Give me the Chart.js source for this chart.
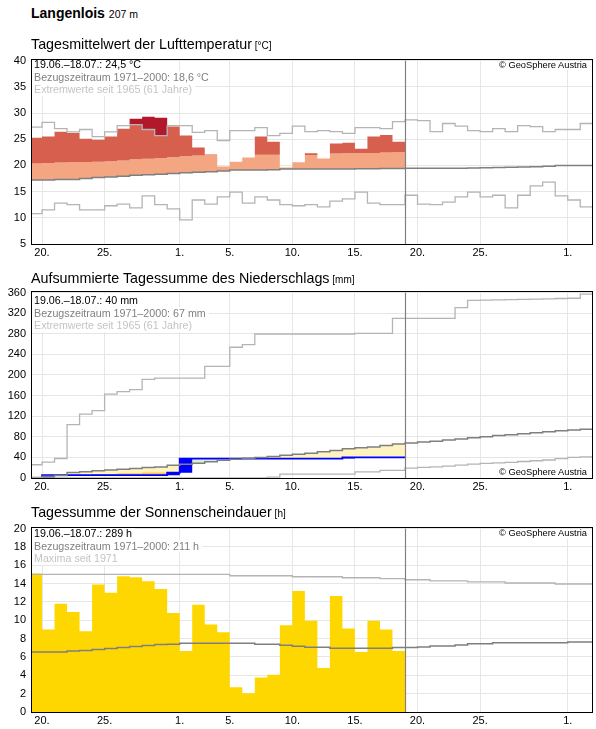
<!DOCTYPE html>
<html><head><meta charset="utf-8">
<script src="https://cdn.jsdelivr.net/npm/chart.js@4/dist/chart.umd.min.js"></script>
<style>
html,body{margin:0;padding:0;background:#fff;width:596px;height:729px;overflow:hidden;font-family:'Liberation Sans',Arial,sans-serif;}
canvas{position:absolute;left:0;z-index:1}
.t{position:absolute;white-space:nowrap;z-index:2}
.frame{position:absolute;border:1px solid #000;box-sizing:border-box;z-index:3;pointer-events:none}
</style></head><body>
<script>
// ---------- categories / ticks ----------
const dates = ['19.06.','20.06.','21.06.','22.06.','23.06.','24.06.','25.06.','26.06.','27.06.','28.06.','29.06.','30.06.',
 '01.07.','02.07.','03.07.','04.07.','05.07.','06.07.','07.07.','08.07.','09.07.','10.07.','11.07.','12.07.','13.07.','14.07.','15.07.',
 '16.07.','17.07.','18.07.','19.07.','20.07.','21.07.','22.07.','23.07.','24.07.','25.07.','26.07.','27.07.','28.07.','29.07.','30.07.','31.07.',
 '01.08.','02.08.'];
const tickDays = [1, 6, 12, 16, 21, 26, 31, 36, 43];
const tickLabels = ['20.', '25.', '1.', '5.', '10.', '15.', '20.', '25.', '1.'];
const todayIndex = 30;

// ---------- temperature (°C) ----------
const tempObs = [25.3,25.5,26.4,26.2,25.1,24.9,25.5,27.0,28.9,29.3,29.1,27.4,25.7,23.4,22.1,19.8,20.7,21.5,25.5,24.5,19.6,20.6,22.3,21.3,24.2,24.3,23.2,25.5,25.8,24.5];
const tempUpper = [20.35,20.45,20.55,20.6,20.65,20.7,20.8,20.95,21.15,21.25,21.4,21.6,21.75,21.9,22.0,22.1,22.2,22.2,22.05,22.05,22.2,22.2,22.0,22.2,22.25,22.3,22.3,22.35,22.45,22.5];
const tempNorm = [17.2,17.2,17.3,17.3,17.5,17.7,17.8,17.95,18.1,18.2,18.3,18.45,18.6,18.7,18.8,18.95,19.1,19.1,19.1,19.15,19.3,19.3,19.3,19.3,19.3,19.3,19.35,19.35,19.4,19.4,19.45,19.45,19.45,19.45,19.45,19.5,19.55,19.6,19.65,19.7,19.75,19.85,20.0,20.0,20.0];
const tempMax = [27.3,28.2,27.0,26.4,26.85,25.5,26.4,27.6,27.8,26.85,25.7,27.6,27.6,26.3,26.65,24.75,26.65,26.65,27.2,25.7,26.1,27.5,26.45,26.65,26.45,26.1,27.2,27.2,27.0,28.35,28.7,28.55,26.45,28.0,27.5,26.65,26.45,27.0,26.45,27.6,27.4,26.45,26.85,26.85,28.0];
const tempMin = [10.8,11.5,12.8,12.5,11.5,11.5,12.3,12.6,11.9,14.2,12.5,11.7,9.6,13.4,12.6,14.0,14.9,12.8,14.0,13.4,12.5,12.3,12.5,12.1,13.2,13.6,14.9,12.8,12.5,12.5,14.3,12.6,12.5,13.0,14.0,14.9,14.0,14.3,11.9,14.3,16.1,16.8,14.2,13.4,12.1];

// ---------- precipitation (mm, cumulative) ----------
const precipObs = [0,5.5,5.5,5.5,5.5,5.5,5.5,5.5,5.5,5.5,5.5,10.2,37.8,37.8,37.8,37.8,37.8,37.8,37.8,37.8,37.8,37.8,37.8,37.8,37.8,40.0,40.0,40.0,40.0,40.0];
const precipLow = [0.5,1.5,2.2,4.8,5.3,7.7,7.7,9.0,9.0,10.9,10.9,10.0,12.5,13.5,14.5,16.0,17.0,18.0,19.0,20.0,21.0,22.0,23.0,24.0,25.5,27.0,28.0,29.0,30.0,31.5];
const precipNorm = [1.0,3.5,4.8,10.5,12.0,14.0,15.5,17.0,18.3,20.2,21.5,24.7,26.7,28.8,31.5,34.5,36.5,38.3,39.8,41.8,44.3,46.3,48.2,50.8,53.3,56.6,58.5,60.4,63.0,66.2,68.1,70.0,71.5,73.9,75.8,78.0,80.3,82.3,84.2,86.1,88.0,90.0,91.9,93.2,94.5];
const precipMax = [25.7,30.8,37.9,103.5,124,131,163,167.7,171.6,191.5,194,194,194,194,216.6,216.6,253.9,259,279.6,279.6,279.6,279.6,279.6,279.6,279.6,279.6,280.8,280.8,280.8,309.8,309.8,309.8,309.8,309.8,331,345,345.5,346,346.5,347,347.5,348,348.5,349,357];
const precipMin = [0,0,0,0,0,0,0,0,0,0,0,0,0,0,0,0,0,0,0,1.8,7.4,7.4,7.4,7.4,7.4,7.4,12.0,12.0,15.0,15.0,19.0,20.5,21.5,23.0,25.0,27.0,28.5,29.5,30.5,32.0,33.5,35.0,37.5,40.0,41.0];

// ---------- sunshine (h) ----------
const sunObs = [15.1,9.0,11.8,10.9,8.8,13.9,13.0,14.8,14.7,14.25,13.4,10.8,6.65,11.7,9.55,8.7,2.7,2.05,3.75,4.05,9.45,13.2,9.95,4.8,12.65,9.1,6.55,9.95,9.0,6.65];
const sunNorm = [6.54,6.54,6.54,6.64,6.71,6.82,6.93,7.04,7.14,7.25,7.36,7.39,7.5,7.5,7.5,7.5,7.5,7.5,7.39,7.39,7.29,7.18,7.07,7.07,6.96,6.96,6.96,6.96,6.96,7.04,7.04,7.1,7.21,7.21,7.32,7.43,7.43,7.54,7.54,7.54,7.54,7.54,7.54,7.64,7.64];
const sunMax = [15.0,15.0,15.0,15.0,15.0,15.0,15.0,15.0,15.0,15.0,15.0,15.0,15.0,15.0,15.0,15.0,14.86,14.86,14.86,14.86,14.86,14.75,14.75,14.75,14.75,14.64,14.64,14.64,14.54,14.54,14.42,14.42,14.29,14.29,14.29,14.18,14.18,14.18,14.07,14.07,14.07,14.07,13.96,13.96,13.96];

// ---------- styling ----------
const FONT = "'Liberation Sans', Arial, sans-serif";
const GRID = '#e6e6e6';
const PAD_T = 10, XAX_H = 16;
const X_MIN = 0.12, X_MAX = 44.94;
const NORM_C = '#7f7f7f', EXT_C = '#b4b4b4';
const NONE = 'rgba(0,0,0,0)';

function pts(arr) {
  const p = arr.map((v, i) => ({x: i, y: v}));
  p.push({x: arr.length, y: arr[arr.length - 1]});
  return p;
}
function lineDs(arr, color, width, order) {
  return {data: pts(arr), borderColor: color, borderWidth: width, stepped: true, fill: false, pointRadius: 0, order};
}
function fillDs(arr, fill, bg, order) {
  return {data: pts(arr), borderColor: NONE, borderWidth: 0, stepped: true, fill, backgroundColor: bg, pointRadius: 0, order};
}

const markerPlugin = {
  id: 'marker',
  afterDatasetsDraw(chart) {
    const {ctx, chartArea} = chart;
    const x = Math.round(chart.scales.x.getPixelForValue(todayIndex)) + 0.5;
    ctx.save();
    ctx.strokeStyle = '#808080'; ctx.lineWidth = 1.2;
    ctx.beginPath(); ctx.moveTo(x, chartArea.top); ctx.lineTo(x, chartArea.bottom); ctx.stroke();
    ctx.restore();
  }
};

function makeChart(top, plotH, yMin, yMax, yStep, datasets) {
  const c = document.createElement('canvas');
  const H = PAD_T + plotH + XAX_H;
  c.width = 596; c.height = H;
  c.style.top = (top - PAD_T) + 'px';
  c.style.width = '596px'; c.style.height = H + 'px';
  document.body.appendChild(c);
  const f = document.createElement('div');
  f.className = 'frame';
  f.style.left = '31px'; f.style.top = top + 'px';
  f.style.width = '562px'; f.style.height = (plotH + 1) + 'px';
  document.body.appendChild(f);
  return new Chart(c.getContext('2d'), {
    type: 'line',
    data: {datasets},
    options: {
      responsive: false, animation: false, devicePixelRatio: 1,
      layout: {padding: {top: PAD_T, right: 4, left: 0, bottom: 0}},
      plugins: {legend: {display: false}, tooltip: {enabled: false}},
      elements: {point: {radius: 0}, line: {tension: 0}},
      scales: {
        x: {
          type: 'linear', min: X_MIN, max: X_MAX,
          afterBuildTicks: s => { s.ticks = tickDays.map(v => ({value: v})); },
          afterFit: s => { s.height = XAX_H; },
          grid: {color: GRID, lineWidth: 1, drawTicks: false},
          border: {display: false},
          ticks: {autoSkip: false, maxRotation: 0, padding: 2, color: '#000',
                  font: {family: FONT, size: 11}, callback: (v, i) => tickLabels[i]}
        },
        y: {
          min: yMin, max: yMax,
          afterFit: s => { s.width = 31; },
          grid: {color: GRID, lineWidth: 1, drawTicks: false},
          border: {display: false},
          ticks: {stepSize: yStep, padding: 5, color: '#000', font: {family: FONT, size: 11}}
        }
      }
    },
    plugins: [markerPlugin]
  });
}

function txt(html, x, baseline, size, opts = {}) {
  const d = document.createElement('div');
  d.className = 't';
  const lh = opts.lh || size;
  d.style.font = (opts.bold ? 'bold ' : '') + size + 'px ' + FONT;
  d.style.lineHeight = lh + 'px';
  const base = (lh - 1.117 * size) / 2 + 0.905 * size;
  d.style.top = (baseline - base) + 'px';
  d.style.color = opts.color || '#000';
  if (opts.bg) { d.style.background = opts.bg; d.style.padding = opts.pad || '0 3px 0 2px'; }
  if (opts.right != null) d.style.right = (596 - opts.right) + 'px';
  else d.style.left = (x - (opts.bg ? 2 : 0)) + 'px';
  d.innerHTML = html;
  document.body.appendChild(d);
}

// ---------- temperature panel ----------
const salmonTop = tempObs.map((t, i) => Math.min(t, tempUpper[i]));
const redTop = tempObs.map((t, i) => Math.min(t, Math.max(tempMax[i], salmonTop[i])));
makeChart(59, 185, 5, 40, 5, [
  lineDs(tempNorm, NORM_C, 1.5, 1),
  lineDs(tempMax, EXT_C, 1.3, 0),
  lineDs(tempMin, EXT_C, 1.3, 0),
  fillDs(salmonTop, {target: 0}, '#f4a582', 6),
  fillDs(redTop, {target: 3}, '#d6604d', 5),
  fillDs(tempObs, {target: 4}, '#b2182b', 4)
]);

// ---------- precipitation panel ----------
const prevCum = precipObs.map((v, i) => i === 0 ? 0 : precipObs[i - 1]);
makeChart(291, 187, 0, 360, 40, [
  lineDs(precipNorm, NORM_C, 1.5, 1),
  lineDs(precipMax, EXT_C, 1.3, 0),
  lineDs(precipMin, EXT_C, 1.3, 0),
  fillDs(precipObs, {target: 0, above: '#dcedd4', below: '#fff4c0'}, '#fff4c0', 7),
  fillDs(precipLow, {target: 3, above: '#fcc35a', below: NONE}, '#fcc35a', 6),
  fillDs(prevCum, {target: 3, above: NONE, below: '#0000ff'}, '#0000ff', 5),
  lineDs(precipObs, '#0000ff', 1.8, 2)
]);

// ---------- sunshine panel ----------
makeChart(527, 185, 0, 20, 2, [
  lineDs(sunNorm, NORM_C, 1.5, 1),
  lineDs(sunMax, EXT_C, 1.3, 0),
  fillDs(sunObs, 'origin', '#ffd700', 3)
]);

// ---------- texts ----------
txt('Langenlois <span style="font-weight:normal;font-size:10.5px">207 m</span>', 31, 18.3, 14, {bold: true});

txt('Tagesmittelwert der Lufttemperatur<span style="font-size:10px"> [°C]</span>', 31, 48.7, 14.3);
txt('19.06.–18.07.: 24,5 °C', 34, 68, 10.7, {bg: '#fff', lh: 12.5});
txt('Bezugszeitraum 1971–2000: 18,6 °C', 34, 80.5, 10.7, {bg: '#fff', lh: 12.5, color: '#808080'});
txt('Extremwerte seit 1965 (61 Jahre)', 34, 93, 10.7, {bg: '#fff', lh: 12.5, color: '#c4c4c4'});
txt('© GeoSphere Austria', 0, 68.5, 9.3, {right: 588, bg: '#fff', pad: '0 1px 0 2px'});

txt('Aufsummierte Tagessumme des Niederschlags<span style="font-size:10px"> [mm]</span>', 31, 282.7, 14.3);
txt('19.06.–18.07.: 40 mm', 34, 304, 10.7, {bg: '#fff', lh: 12.5});
txt('Bezugszeitraum 1971–2000: 67 mm', 34, 316.5, 10.7, {bg: '#fff', lh: 12.5, color: '#808080'});
txt('Extremwerte seit 1965 (61 Jahre)', 34, 329, 10.7, {bg: '#fff', lh: 12.5, color: '#c4c4c4'});
txt('© GeoSphere Austria', 0, 475.7, 9.3, {right: 588, bg: '#fff', pad: '0 1px 0 2px'});

txt('Tagessumme der Sonnenscheindauer<span style="font-size:10px"> [h]</span>', 31, 516.7, 14.3);
txt('19.06.–18.07.: 289 h', 34, 537.3, 10.7, {bg: '#fff', lh: 12.5});
txt('Bezugszeitraum 1971–2000: 211 h', 34, 549.8, 10.7, {bg: '#fff', lh: 12.5, color: '#808080'});
txt('Maxima seit 1971', 34, 562.3, 10.7, {bg: '#fff', lh: 12.5, color: '#c4c4c4'});
txt('© GeoSphere Austria', 0, 537.3, 9.3, {right: 588, bg: '#fff', pad: '0 1px 0 2px'});
</script></body></html>
